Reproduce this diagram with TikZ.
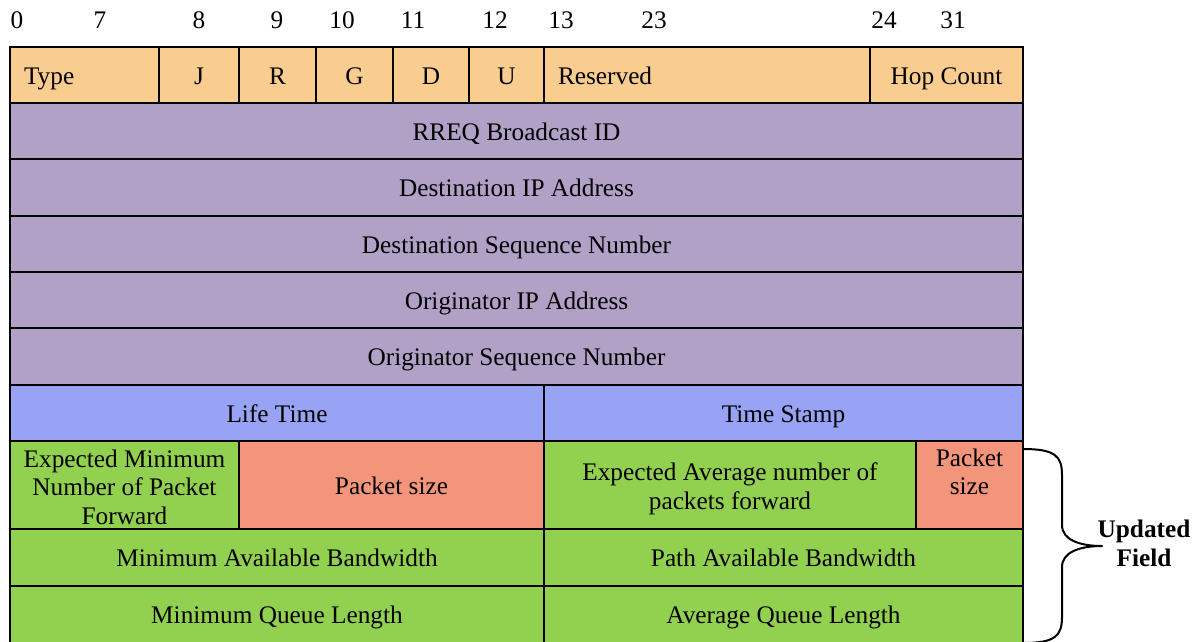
\documentclass[tikz,border=0pt]{standalone}
\usepackage{fontspec}
\setmainfont{Liberation Serif}
\definecolor{hdr}{RGB}{249,204,143}
\definecolor{lav}{RGB}{177,161,199}
\definecolor{blu}{RGB}{153,163,245}
\definecolor{grn}{RGB}{146,208,80}
\definecolor{sal}{RGB}{243,149,122}
\tikzset{
  cellbox/.style={draw=black, line width=2.6pt, inner sep=0pt, outer sep=0pt, align=center,
    text height=23pt, text depth=5pt},
  hnum/.style={inner sep=0pt},
  bracepath/.style={draw=black, line width=2pt, line cap=round, line join=round},
}
\newcommand{\mycell}[8][]{%
  \node[cellbox, fill=#7, minimum width={(#5-#3)*1pt}, minimum height={(#6-#4)*1pt}, #1]
    (#2) at ({(#3+#5)/2},{(#4+#6)/2}) {#8};}
\begin{document}
\begin{tikzpicture}[x=1pt,y=-1pt,font=\fontsize{25.3}{28.6}\selectfont]
\useasboundingbox (0,0) rectangle (1196,641);
\clip (0,0) rectangle (1196,641);
% header numbers
\node[hnum] (n0) at (17,20) {0};
\node[hnum] (n7) at (100,20) {7};
\node[hnum] (n8) at (199,20) {8};
\node[hnum] (n9) at (277,20) {9};
\node[hnum] (n10) at (342,20) {10};
\node[hnum] (n11) at (413,20) {11};
\node[hnum] (n12) at (495,20) {12};
\node[hnum] (n13) at (561,20) {13};
\node[hnum] (n23) at (654,20) {23};
\node[hnum] (n24) at (884,20) {24};
\node[hnum] (n31) at (953,20) {31};
% row 1
\mycell[text width=121pt, align=left, inner xsep=14pt]{type}{10}{47}{159}{103}{hdr}{Type}
\mycell{fj}{159}{47}{239}{103}{hdr}{J}
\mycell{fr}{239}{47}{316}{103}{hdr}{R}
\mycell{fg}{316}{47}{393}{103}{hdr}{G}
\mycell{fd}{393}{47}{469}{103}{hdr}{D}
\mycell{fu}{469}{47}{544}{103}{hdr}{U}
\mycell[text width=298pt, align=left, inner xsep=14pt]{res}{544}{47}{870}{103}{hdr}{Reserved}
\mycell{hop}{870}{47}{1023}{103}{hdr}{Hop Count}
% rows 2-6
\mycell{rreq}{10}{103}{1023}{159}{lav}{RREQ Broadcast ID}
\mycell{dip}{10}{159}{1023}{216}{lav}{Destination IP Address}
\mycell{dsn}{10}{216}{1023}{272}{lav}{Destination Sequence Number}
\mycell{oip}{10}{272}{1023}{328}{lav}{Originator IP Address}
\mycell{osn}{10}{328}{1023}{385}{lav}{Originator Sequence Number}
% row 7
\mycell{life}{10}{385}{544}{441}{blu}{Life Time}
\mycell{stamp}{544}{385}{1023}{441}{blu}{Time Stamp}
% row 8
\mycell{emn}{10}{441}{239}{529}{grn}{}
\node[align=center, inner sep=0pt] (emntxt) at (124.5,487) {Expected Minimum\\Number of Packet\\Forward};
\mycell{psa}{239}{441}{544}{529}{sal}{Packet size}
\mycell{ean}{544}{441}{916}{529}{grn}{}
\node[align=center, inner sep=0pt] (eantxt) at (730,489) {Expected Average number of\\packets forward};
\mycell{psb}{916}{441}{1023}{529}{sal}{}
\node[align=center, inner sep=0pt] (psbtxt) at (969.5,472) {Packet\\size};
% rows 9-10
\mycell{mab}{10}{529}{544}{586}{grn}{Minimum Available Bandwidth}
\mycell{pab}{544}{529}{1023}{586}{grn}{Path Available Bandwidth}
\mycell{mql}{10}{586}{544}{643}{grn}{Minimum Queue Length}
\mycell{aql}{544}{586}{1023}{643}{grn}{Average Queue Length}
% brace
\coordinate (bt) at (1023,449);
\coordinate (tip) at (1102,546);
\coordinate (bb) at (1023,643);
\path[bracepath] (bt) .. controls (1055,449) and (1062,456) .. (1062,475)
  -- (1062,525) .. controls (1062,540) and (1080,546) .. (tip)
  .. controls (1080,546) and (1062,552) .. (1062,567)
  -- (1062,617) .. controls (1062,636) and (1055,643) .. (bb);
\node[align=center, font=\fontsize{25.3}{29}\selectfont\bfseries, inner sep=0pt] (upd) at (1144,543) {Updated\\Field};
\end{tikzpicture}
\end{document}
